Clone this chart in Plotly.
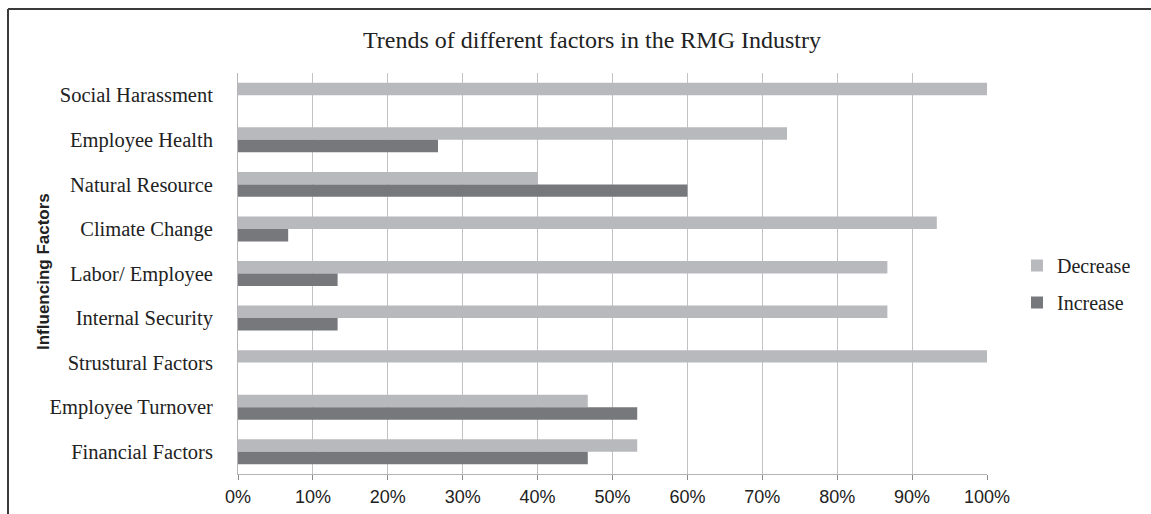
import plotly.graph_objects as go

categories = ["Social Harassment", "Employee Health", "Natural Resource", "Climate Change",
              "Labor/ Employee", "Internal Security", "Strustural Factors",
              "Employee Turnover", "Financial Factors"]
decrease = [100, 73.3, 40, 93.3, 86.7, 86.7, 100, 46.7, 53.3]
increase = [0, 26.7, 60, 6.7, 13.3, 13.3, 0, 53.3, 46.7]
x_ticks = [0, 10, 20, 30, 40, 50, 60, 70, 80, 90, 100]
x_tick_labels = [f"{v}%" for v in x_ticks]

W, H = 1151, 514
L, R, T, B = 238, 987, 73, 474
pw, ph = R - L, B - T

def px_x(x):
    return (x - L) / pw

def px_y(y):
    return (B - y) / ph

fig = go.Figure()
fig.add_trace(go.Bar(y=categories, x=decrease, orientation="h", name="Decrease",
                     marker=dict(color="#b8b9bc", line=dict(width=0)), legendgroup="a"))
fig.add_trace(go.Bar(y=categories, x=increase, orientation="h", name="Increase",
                     marker=dict(color="#77787c", line=dict(width=0)), legendgroup="b"))

fig.update_layout(
    template="none",
    width=W, height=H,
    margin=dict(l=L, r=W - R, t=T, b=H - B, autoexpand=False),
    paper_bgcolor="white", plot_bgcolor="white",
    barmode="group", bargap=0.44, bargroupgap=0,
    title=dict(text="Trends of different factors in the RMG Industry",
               font=dict(family="Liberation Serif", size=24, color="#222"),
               x=592 / W, xanchor="center", xref="container",
               y=1 - 40 / H, yanchor="middle", yref="container"),
    xaxis=dict(range=[0, 100], tickvals=x_ticks, ticktext=x_tick_labels,
               automargin=False,
               showgrid=True, gridcolor="#c2c2c2", gridwidth=1,
               showline=True, linecolor="#b5b5b5", linewidth=1,
               ticks="outside", ticklen=5, tickcolor="#8a8a8a",
               ticklabelstandoff=1,
               tickfont=dict(family="Liberation Sans", size=18, color="#222"),
               zeroline=False, fixedrange=True),
    yaxis=dict(categoryorder="array", categoryarray=categories, autorange="reversed",
               automargin=False,
               showline=True, linecolor="#b5b5b5", linewidth=1,
               ticks="", ticklabelstandoff=20,
               tickfont=dict(family="Liberation Serif", size=20.5, color="#222"),
               showgrid=False, zeroline=False),
    legend=dict(x=px_x(1017), xanchor="left", y=px_y(284), yanchor="middle",
                font=dict(family="Liberation Serif", size=20, color="#222"),
                tracegroupgap=8, traceorder="grouped", bgcolor="rgba(0,0,0,0)",
                borderwidth=0),
    showlegend=True,
)

fig.add_annotation(text="<b>Influencing Factors</b>", textangle=-90,
                   xref="paper", yref="paper", x=px_x(43), y=px_y(272),
                   xanchor="center", yanchor="middle", showarrow=False,
                   font=dict(family="Liberation Sans", size=17, color="#222"))

# frame: only left and top edges are visible in the image
fig.add_shape(type="line", xref="paper", yref="paper",
              x0=px_x(8), x1=px_x(8), y0=px_y(9), y1=px_y(H + 5),
              line=dict(color="#3a3a3a", width=2), layer="below")
fig.add_shape(type="line", xref="paper", yref="paper",
              x0=px_x(8), x1=px_x(W + 5), y0=px_y(9), y1=px_y(9),
              line=dict(color="#3a3a3a", width=2), layer="below")

fig.write_html("out.html")
